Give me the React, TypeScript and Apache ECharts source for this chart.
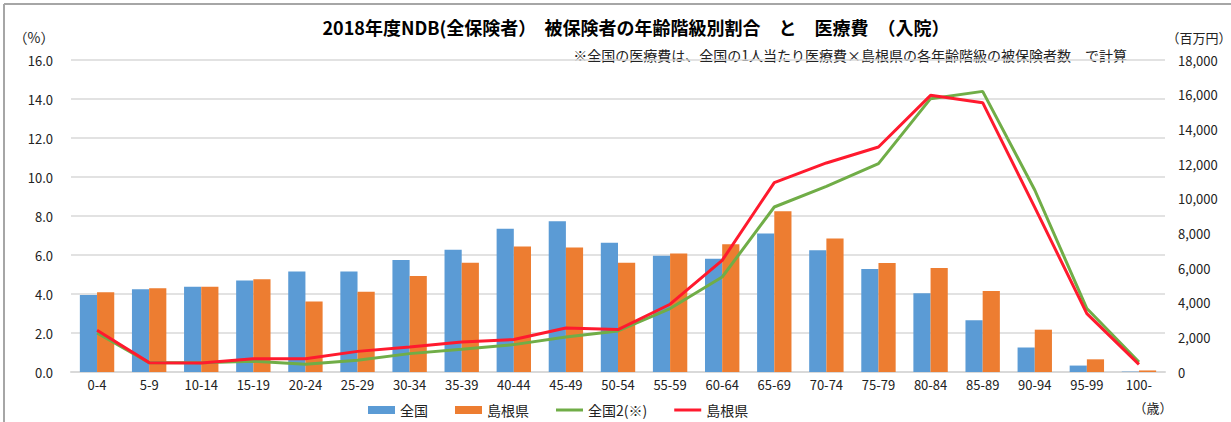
import React, { useEffect, useRef } from "react";
import * as echarts from "echarts";

const categories = ["0-4","5-9","10-14","15-19","20-24","25-29","30-34","35-39","40-44","45-49","50-54","55-59","60-64","65-69","70-74","75-79","80-84","85-89","90-94","95-99","100-"];
const zenkokuShare = [3.95,4.25,4.37,4.69,5.15,5.15,5.74,6.27,7.34,7.73,6.63,5.96,5.81,7.10,6.25,5.28,4.04,2.66,1.26,0.33,0.02];
const shimaneShare = [4.09,4.30,4.37,4.76,3.61,4.12,4.92,5.60,6.43,6.38,5.60,6.08,6.55,8.25,6.85,5.59,5.33,4.16,2.17,0.65,0.08];
const zenkoku2Cost = [2250,540,530,620,450,680,1060,1310,1580,2020,2370,3660,5480,9520,10710,12020,15770,16190,10500,3660,580];
const shimaneCost = [2410,540,520,770,770,1190,1440,1730,1870,2540,2450,3910,6440,10930,12060,12980,15960,15540,9500,3370,440];
const leftTicks = { min: 0, max: 16, interval: 2 };
const rightTicks = { min: 0, max: 18000, interval: 2000 };

const titleText = "2018年度NDB(全保険者）  被保険者の年齢階級別割合　と　医療費　（入院）";
const subText = "※全国の医療費は、全国の1人当たり医療費×島根県の各年齢階級の被保険者数　で計算";

const FONT = "'Noto Sans CJK JP', 'Noto Sans', sans-serif";
const LINE_ICON = "path://M0,0H27V3H0Z";

export default function App() {
  const ref = useRef<HTMLDivElement>(null);
  useEffect(() => {
    document.body.style.margin = "0";
    const chart = echarts.init(ref.current!, null, { renderer: "svg" });
    const axisText = { color: "#222", fontSize: 13, fontFamily: FONT };
    chart.setOption({
      animation: false,
      backgroundColor: "#fff",
      textStyle: { fontFamily: FONT },
      grid: { left: 71, right: 66, top: 60, bottom: 50 },
      legend: {
        left: 368,
        top: 402,
        padding: 0,
        itemWidth: 27,
        itemHeight: 8,
        itemGap: 27,
        symbolKeepAspect: true,
        textStyle: { fontSize: 14, lineHeight: 16, color: "#222", fontFamily: FONT },
        formatter: (n: string) => n.trim(),
        data: [
          { name: "全国", icon: "rect" },
          { name: "島根県", icon: "rect" },
          { name: "全国2(※)", icon: LINE_ICON },
          { name: "島根県 ", icon: LINE_ICON },
        ],
      },
      xAxis: {
        type: "category",
        data: categories,
        axisTick: { show: false },
        axisLine: { lineStyle: { color: "#d9d9d9", width: 2 } },
        axisLabel: { ...axisText, margin: 6, interval: 0 },
      },
      yAxis: [
        {
          type: "value",
          ...leftTicks,
          axisLabel: { ...axisText, margin: 18, formatter: (v: number) => v.toFixed(1) },
          splitLine: { lineStyle: { color: "#d9d9d9", width: 1.5 } },
          axisLine: { show: false },
          axisTick: { show: false },
        },
        {
          type: "value",
          ...rightTicks,
          axisLabel: {
            ...axisText,
            margin: 13,
            formatter: (v: number) => v.toLocaleString("en-US"),
          },
          splitLine: { show: false },
          axisLine: { show: false },
          axisTick: { show: false },
        },
      ],
      series: [
        {
          name: "全国",
          type: "bar",
          data: zenkokuShare,
          barGap: "0%",
          barCategoryGap: "34%",
          itemStyle: { color: "#5B9BD5" },
        },
        {
          name: "島根県",
          type: "bar",
          data: shimaneShare,
          itemStyle: { color: "#ED7D31" },
        },
        {
          name: "全国2(※)",
          type: "line",
          yAxisIndex: 1,
          data: zenkoku2Cost,
          symbol: "none",
          lineStyle: { color: "#70AD47", width: 3 },
          itemStyle: { color: "#70AD47" },
        },
        {
          name: "島根県 ",
          type: "line",
          yAxisIndex: 1,
          data: shimaneCost,
          symbol: "none",
          lineStyle: { color: "#FF1A2E", width: 3 },
          itemStyle: { color: "#FF1A2E" },
        },
      ],
      graphic: [
        { type: "line", shape: { x1: 4, y1: 4, x2: 1231, y2: 4 }, style: { stroke: "#a6a6a6", lineWidth: 2 } },
        { type: "line", shape: { x1: 4, y1: 4, x2: 4, y2: 422 }, style: { stroke: "#a6a6a6", lineWidth: 2 } },
        {
          type: "text",
          x: 636,
          y: 27,
          style: { text: titleText, fill: "#000", font: `bold 18px ${FONT}`, textAlign: "center", textVerticalAlign: "middle" },
        },
        {
          type: "text",
          x: 1127,
          y: 55,
          style: { text: subText, fill: "#222", font: `14px ${FONT}`, textAlign: "right", textVerticalAlign: "middle" },
        },
        {
          type: "text",
          x: 34,
          y: 37,
          style: { text: "（%）", fill: "#222", font: `14px ${FONT}`, textAlign: "center", textVerticalAlign: "middle" },
        },
        {
          type: "text",
          x: 1199,
          y: 37,
          style: { text: "（百万円）", fill: "#222", font: `13px ${FONT}`, textAlign: "center", textVerticalAlign: "middle" },
        },
        {
          type: "text",
          x: 1153,
          y: 407,
          style: { text: "（歳）", fill: "#222", font: `13px ${FONT}`, textAlign: "center", textVerticalAlign: "middle" },
        },
      ],
    });
    return () => chart.dispose();
  }, []);
  return <div ref={ref} style={{ position: "absolute", left: 0, top: 0, width: 1231, height: 422 }} />;
}
